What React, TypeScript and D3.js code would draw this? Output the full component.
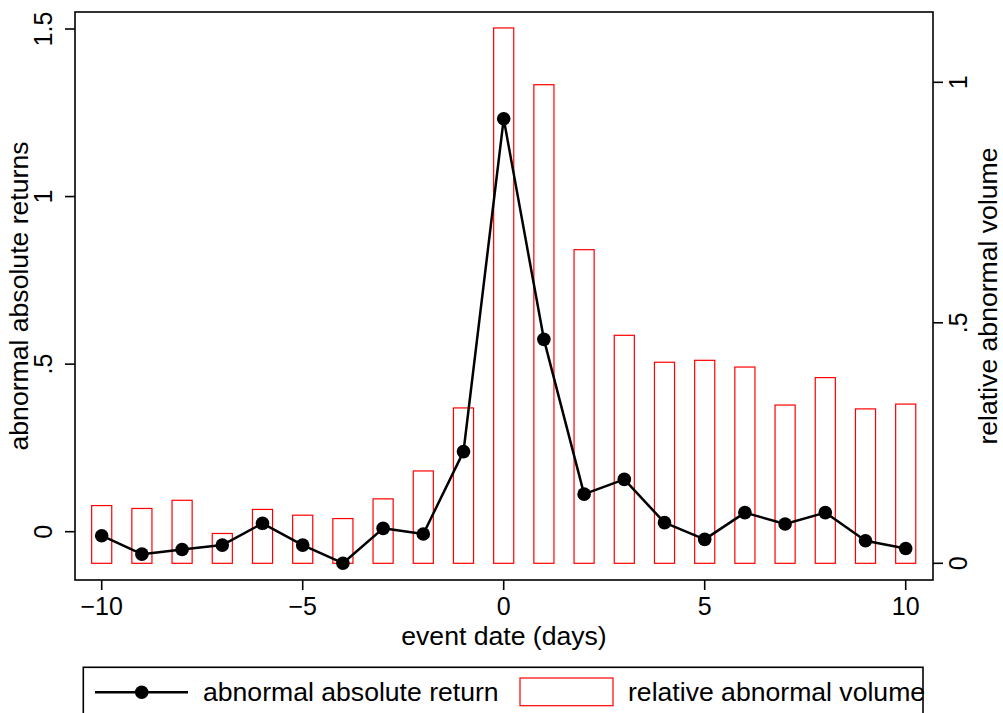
import React from "react";
import * as d3 from "d3";

// Event window (days relative to the event date)
const days: number[] = [-10, -9, -8, -7, -6, -5, -4, -3, -2, -1, 0, 1, 2, 3, 4, 5, 6, 7, 8, 9, 10];

// Abnormal absolute returns (left axis)
const absReturns: number[] = [
  -0.012, -0.067, -0.053, -0.04, 0.025, -0.04, -0.094, 0.01, -0.007, 0.239,
  1.232, 0.574, 0.112, 0.156, 0.027, -0.023, 0.057, 0.023, 0.057, -0.027, -0.05,
];

// Relative abnormal volume (right axis)
const relVolume: number[] = [
  0.12, 0.114, 0.131, 0.062, 0.112, 0.1, 0.093, 0.134, 0.192, 0.323,
  1.113, 0.995, 0.652, 0.474, 0.418, 0.422, 0.408, 0.329, 0.386, 0.321, 0.331,
];

const xTicks: number[] = [-10, -5, 0, 5, 10];
const xTickLabels: string[] = ["\u221210", "\u22125", "0", "5", "10"];
const leftTicks: number[] = [0, 0.5, 1, 1.5];
const leftTickLabels: string[] = ["0", ".5", "1", "1.5"];
const rightTicks: number[] = [0, 0.5, 1];
const rightTickLabels: string[] = ["0", ".5", "1"];

const W = 1003;
const H = 713;
const FONT = "'Liberation Sans', Arial, Helvetica, sans-serif";
const TICK_FS = 25;
const TITLE_FS = 26.6;

const frame = { left: 75, right: 933, top: 12, bottom: 580 };

export default function App() {
  const x = d3.scaleLinear().domain([-10, 10]).range([101.7, 905.7]);
  const yL = d3.scaleLinear().domain([0, 1.5]).range([531.7, 29]);
  const yR = d3.scaleLinear().domain([0, 1]).range([563.3, 82.3]);
  const barHalf = (x(1) - x(0)) / 4;

  const line = d3
    .line<number>()
    .x((_, i) => x(days[i]))
    .y((d) => yL(d));

  const tickLen = 10;

  return (
    <svg
      width={W}
      height={H}
      viewBox={`0 0 ${W} ${H}`}
      style={{ position: "absolute", left: 0, top: 0, background: "#fff" }}
      fontFamily={FONT}
    >
      <rect x={0} y={0} width={W} height={H} fill="#fff" />

      {/* volume bars */}
      {relVolume.map((v, i) => (
        <rect
          key={"b" + i}
          x={x(days[i]) - barHalf}
          y={yR(v)}
          width={barHalf * 2}
          height={yR(0) - yR(v)}
          fill="none"
          stroke="#ff0000"
          strokeWidth={1.2}
        />
      ))}

      {/* return line with markers */}
      <path d={line(absReturns) || ""} fill="none" stroke="#000" strokeWidth={2.5} strokeLinejoin="round" />
      {absReturns.map((v, i) => (
        <circle key={"p" + i} cx={x(days[i])} cy={yL(v)} r={6.8} fill="#000" />
      ))}

      {/* plot frame */}
      <rect
        x={frame.left}
        y={frame.top}
        width={frame.right - frame.left}
        height={frame.bottom - frame.top}
        fill="none"
        stroke="#000"
        strokeWidth={1.6}
      />

      {/* bottom axis */}
      {xTicks.map((t, i) => (
        <g key={"xt" + i}>
          <line x1={x(t)} x2={x(t)} y1={frame.bottom} y2={frame.bottom + tickLen} stroke="#000" strokeWidth={1.6} />
          <text x={x(t)} y={615} textAnchor="middle" fontSize={TICK_FS}>
            {xTickLabels[i]}
          </text>
        </g>
      ))}
      <text x={(frame.left + frame.right) / 2} y={645} textAnchor="middle" fontSize={TITLE_FS}>
        event date (days)
      </text>

      {/* left axis */}
      {leftTicks.map((t, i) => (
        <g key={"lt" + i}>
          <line x1={frame.left - tickLen} x2={frame.left} y1={yL(t)} y2={yL(t)} stroke="#000" strokeWidth={1.6} />
          <text transform={`translate(52,${yL(t)}) rotate(-90)`} textAnchor="middle" fontSize={TICK_FS}>
            {leftTickLabels[i]}
          </text>
        </g>
      ))}
      <text
        transform={`translate(28,${(frame.top + frame.bottom) / 2}) rotate(-90)`}
        textAnchor="middle"
        fontSize={TITLE_FS}
      >
        abnormal absolute returns
      </text>

      {/* right axis */}
      {rightTicks.map((t, i) => (
        <g key={"rt" + i}>
          <line x1={frame.right} x2={frame.right + tickLen} y1={yR(t)} y2={yR(t)} stroke="#000" strokeWidth={1.6} />
          <text transform={`translate(967,${yR(t)}) rotate(-90)`} textAnchor="middle" fontSize={TICK_FS}>
            {rightTickLabels[i]}
          </text>
        </g>
      ))}
      <text
        transform={`translate(997,${(frame.top + frame.bottom) / 2}) rotate(-90)`}
        textAnchor="middle"
        fontSize={TITLE_FS}
      >
        relative abnormal volume
      </text>

      {/* legend */}
      <rect x={83.3} y={667.3} width={923 - 83.3} height={80} fill="#fff" stroke="#000" strokeWidth={1.6} />
      <line x1={95} x2={188} y1={692.3} y2={692.3} stroke="#000" strokeWidth={2.5} />
      <circle cx={141.7} cy={692.3} r={6.8} fill="#000" />
      <text x={203} y={701} fontSize={TITLE_FS}>
        abnormal absolute return
      </text>
      <rect x={520} y={678} width={93} height={27.7} fill="none" stroke="#ff0000" strokeWidth={1.2} />
      <text x={628} y={701} fontSize={TITLE_FS}>
        relative abnormal volume
      </text>
    </svg>
  );
}
